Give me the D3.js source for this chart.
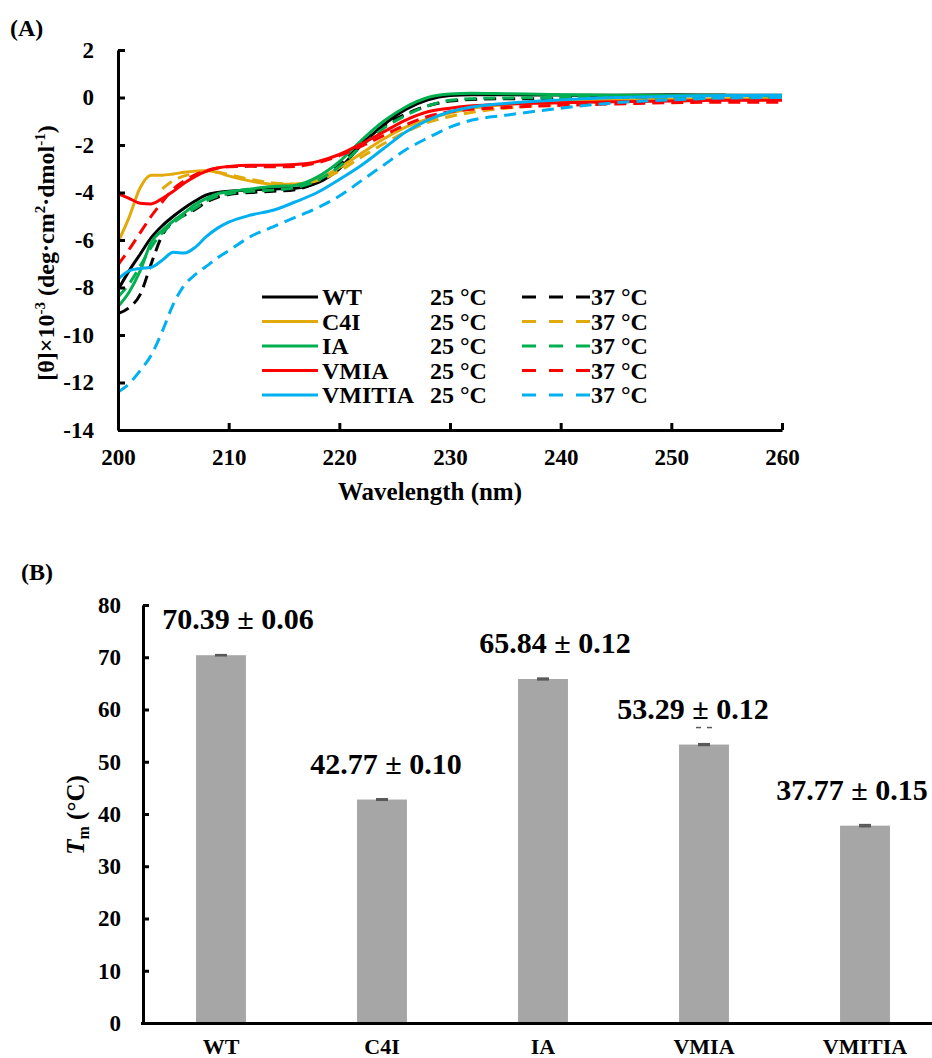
<!DOCTYPE html>
<html>
<head>
<meta charset="utf-8">
<script src="https://cdn.jsdelivr.net/npm/d3@7"></script>
<style>
body { margin: 0; background: #fff; }
svg text { font-family: "Liberation Serif", "Times New Roman", serif; font-weight: bold; fill: #000; }
</style>
</head>
<body>
<script>
// ---- panel A data (CD spectra) ----
var wavelengths = [200,201,202,203,204,205,206,207,208,209,210,212,214,216,218,220,222,224,226,228,230,232,235,240,245,250,255,260];

var wt25 = [-8.1,-7.3,-6.6,-5.9,-5.4,-5.0,-4.65,-4.35,-4.1,-4.0,-3.95,-3.88,-3.85,-3.82,-3.6,-3.0,-2.0,-1.15,-0.5,-0.1,0.08,0.12,0.12,0.1,0.1,0.12,0.1,0.1];
var wt37 = [-9.1,-8.85,-8.3,-7.0,-5.8,-5.2,-4.95,-4.7,-4.4,-4.2,-4.08,-4.0,-3.95,-3.88,-3.55,-2.85,-1.95,-1.2,-0.7,-0.35,-0.15,-0.08,-0.05,-0.05,-0.03,-0.02,0,0];
var c4i25 = [-6.1,-5.05,-3.8,-3.27,-3.27,-3.22,-3.15,-3.1,-3.07,-3.15,-3.3,-3.52,-3.65,-3.65,-3.45,-2.95,-2.35,-1.75,-1.25,-0.9,-0.65,-0.45,-0.3,-0.15,-0.1,-0.08,-0.05,-0.05];
var c4i37 = [null,null,null,null,-3.85,-3.5,-3.3,-3.18,-3.12,-3.15,-3.25,-3.45,-3.6,-3.65,-3.5,-3.1,-2.5,-1.95,-1.45,-1.05,-0.8,-0.62,-0.45,-0.3,-0.2,-0.12,-0.08,-0.05];
var ia25 = [-8.8,-8.2,-7.3,-6.1,-5.6,-5.2,-4.85,-4.5,-4.25,-4.05,-3.97,-3.85,-3.75,-3.7,-3.35,-2.7,-1.8,-1.0,-0.4,0.0,0.15,0.18,0.16,0.12,0.1,0.1,0.1,0.05];
var ia37 = [-8.4,-7.85,-7.1,-6.3,-5.7,-5.28,-4.95,-4.65,-4.35,-4.15,-4.05,-3.95,-3.9,-3.8,-3.5,-2.9,-2.05,-1.3,-0.75,-0.35,-0.12,-0.05,-0.02,0,0.02,0.02,0.02,0.02];
var vmia25 = [-4.05,-4.25,-4.45,-4.48,-4.25,-3.95,-3.6,-3.32,-3.1,-2.97,-2.9,-2.85,-2.85,-2.82,-2.7,-2.4,-1.95,-1.45,-0.95,-0.6,-0.45,-0.35,-0.28,-0.22,-0.18,-0.15,-0.12,-0.12];
var vmia37 = [-7.05,-6.4,-5.7,-5.0,-4.4,-3.85,-3.5,-3.25,-3.08,-2.97,-2.92,-2.9,-2.92,-2.9,-2.75,-2.45,-2.05,-1.6,-1.15,-0.8,-0.6,-0.5,-0.42,-0.33,-0.27,-0.22,-0.2,-0.2];
var vmitia25 = [-7.65,-7.3,-7.2,-7.15,-6.85,-6.52,-6.55,-6.3,-5.85,-5.5,-5.25,-4.95,-4.75,-4.4,-4.0,-3.45,-2.85,-2.15,-1.45,-0.95,-0.6,-0.4,-0.25,-0.1,0,0.05,0.08,0.1];
var vmitia37 = [-12.4,-12.05,-11.5,-10.85,-9.85,-8.7,-7.9,-7.45,-7.1,-6.75,-6.45,-5.85,-5.45,-5.05,-4.65,-4.15,-3.5,-2.85,-2.2,-1.7,-1.25,-0.95,-0.75,-0.45,-0.22,-0.1,-0.02,0];

var mutants = ["WT", "C4I", "IA", "VMIA", "VMITIA"];
var colors = ["#000000", "#e2a90b", "#00b050", "#ff0000", "#00b0f0"];
var temps = ["25 °C", "37 °C"];
var spectra25 = [wt25, c4i25, ia25, vmia25, vmitia25];
var spectra37 = [wt37, c4i37, ia37, vmia37, vmitia37];
var yTicksA = [-14,-12,-10,-8,-6,-4,-2,0,2];
var xTicksA = [200,210,220,230,240,250,260];

// ---- panel B data (melting temperatures) ----
var tmValues = [70.39, 42.77, 65.84, 53.29, 37.77];
var tmErrors = [0.06, 0.10, 0.12, 0.12, 0.15];
var tmLabels = ["70.39 ± 0.06", "42.77 ± 0.10", "65.84 ± 0.12", "53.29 ± 0.12", "37.77 ± 0.15"];
var yTicksB = [0,10,20,30,40,50,60,70,80];

var width = 932, height = 1058;
var svg = d3.select("body").append("svg")
	.attr("width", width)
	.attr("height", height);

svg.append("rect").attr("width", width).attr("height", height).attr("fill", "#fff");

// ======== panel A ========
var xA = d3.scaleLinear().domain([200, 260]).range([118, 782]);
var yA = d3.scaleLinear().domain([-14, 2]).range([430, 50]);

function styleAxis(g, size) {
	g.select(".domain").attr("stroke-width", 3);
	g.selectAll(".tick line").attr("stroke-width", 3);
	g.selectAll(".tick text").attr("font-size", size);
}

svg.append("text")
	.attr("x", 10)
	.attr("y", 36)
	.attr("font-size", "24px")
	.text("(A)");

var series = [];
mutants.forEach((m, i) => {
	series.push({ name: m, color: colors[i], dashed: false, values: spectra25[i] });
});
mutants.forEach((m, i) => {
	series.push({ name: m, color: colors[i], dashed: true, values: spectra37[i] });
});
// draw order: pair solid/dashed per mutant
var order = [0,5,1,6,2,7,3,8,4,9];

var line = d3.line()
	.defined((d) => d[1] !== null)
	.x((d) => xA(d[0]))
	.y((d) => yA(d[1]))
	.curve(d3.curveMonotoneX);

svg.append("g").selectAll("path")
	.data(order.map((k) => series[k]))
	.enter()
	.append("path")
	.attr("fill", "none")
	.attr("stroke", (d) => d.color)
	.attr("stroke-width", 3)
	.attr("stroke-dasharray", (d) => d.dashed ? "12,7" : null)
	.attr("d", (d) => line(wavelengths.map((w, j) => [w, d.values[j]])));

var leftAxisA = d3.axisLeft(yA)
	.tickValues(yTicksA)
	.tickSize(-7)
	.tickSizeOuter(0)
	.tickPadding(24)
	.tickFormat((d) => String(d));
svg.append("g")
	.attr("transform", "translate(118,0)")
	.call(leftAxisA)
	.call((g) => styleAxis(g, "23px"));

var bottomAxisA = d3.axisBottom(xA)
	.tickValues(xTicksA)
	.tickSize(-7)
	.tickSizeOuter(0)
	.tickPadding(19);
svg.append("g")
	.attr("transform", "translate(0,430)")
	.call(bottomAxisA)
	.call((g) => styleAxis(g, "23px"));

svg.append("text")
	.attr("x", 430)
	.attr("y", 500)
	.attr("text-anchor", "middle")
	.attr("font-size", "25px")
	.text("Wavelength (nm)");

var yTitleA = svg.append("text")
	.attr("transform", "translate(54,253) rotate(-90)")
	.attr("text-anchor", "middle")
	.attr("font-size", "24px");
yTitleA.append("tspan").text("[θ]×10");
yTitleA.append("tspan").attr("font-size", "15px").attr("dy", -9).text("-3");
yTitleA.append("tspan").attr("dy", 9).text(" (deg·cm");
yTitleA.append("tspan").attr("font-size", "15px").attr("dy", -9).text("2");
yTitleA.append("tspan").attr("dy", 9).text("·dmol");
yTitleA.append("tspan").attr("font-size", "15px").attr("dy", -9).text("-1");
yTitleA.append("tspan").attr("dy", 9).text(")");

// legend
var legend = svg.append("g");
var legendRows = legend.selectAll("g")
	.data(mutants)
	.enter()
	.append("g")
	.attr("transform", (d, i) => "translate(0," + (297 + i * 24.5) + ")");
legendRows.append("line")
	.attr("x1", 262).attr("x2", 318)
	.attr("stroke", (d, i) => colors[i])
	.attr("stroke-width", 3);
legendRows.append("text")
	.attr("x", 322).attr("y", 8)
	.attr("font-size", "24px")
	.text((d) => d);
legendRows.append("text")
	.attr("x", 430).attr("y", 8)
	.attr("font-size", "24px")
	.text(temps[0]);
legendRows.append("line")
	.attr("x1", 522).attr("x2", 590)
	.attr("stroke", (d, i) => colors[i])
	.attr("stroke-width", 3)
	.attr("stroke-dasharray", "14,13");
legendRows.append("text")
	.attr("x", 591).attr("y", 8)
	.attr("font-size", "24px")
	.text(temps[1]);

// ======== panel B ========
var xB = d3.scaleBand()
	.domain(mutants)
	.range([140.5, 945.5])
	.paddingInner(0.69)
	.paddingOuter(0.345);
var yB = d3.scaleLinear().domain([0, 80]).range([1023, 605]);

svg.append("text")
	.attr("x", 21)
	.attr("y", 580)
	.attr("font-size", "24px")
	.text("(B)");

svg.append("g").selectAll("rect")
	.data(tmValues)
	.enter()
	.append("rect")
	.attr("x", (d, i) => xB(mutants[i]))
	.attr("y", (d) => yB(d))
	.attr("width", xB.bandwidth())
	.attr("height", (d) => yB(0) - yB(d))
	.attr("fill", "#a6a6a6");

// error bars
var errG = svg.append("g").attr("stroke", "#595959").attr("stroke-width", 2);
tmValues.forEach((v, i) => {
	var cx = xB(mutants[i]) + xB.bandwidth() / 2;
	errG.append("line").attr("x1", cx).attr("x2", cx).attr("y1", yB(v + tmErrors[i])).attr("y2", yB(v - tmErrors[i]));
	errG.append("line").attr("x1", cx - 6).attr("x2", cx + 6).attr("y1", yB(v + tmErrors[i])).attr("y2", yB(v + tmErrors[i]));
	errG.append("line").attr("x1", cx - 6).attr("x2", cx + 6).attr("y1", yB(v - tmErrors[i])).attr("y2", yB(v - tmErrors[i]));
});

// small stray marks above the VMIA bar
var vx = xB("VMIA") + xB.bandwidth() / 2;
var vy = yB(tmValues[3]) - 17;
errG.append("line").attr("x1", vx - 8).attr("x2", vx - 3).attr("y1", vy).attr("y2", vy).attr("stroke-width", 1.5);
errG.append("line").attr("x1", vx + 3).attr("x2", vx + 8).attr("y1", vy).attr("y2", vy).attr("stroke-width", 1.5);

var labelDx = [17, 4, 12, -11, -13];
svg.append("g").selectAll("text")
	.data(tmLabels)
	.enter()
	.append("text")
	.attr("x", (d, i) => xB(mutants[i]) + xB.bandwidth() / 2 + labelDx[i])
	.attr("y", (d, i) => yB(tmValues[i]) - 26)
	.attr("text-anchor", "middle")
	.attr("font-size", "30px")
	.text((d) => d);

var leftAxisB = d3.axisLeft(yB)
	.tickValues(yTicksB)
	.tickSize(-6)
	.tickSizeOuter(0)
	.tickPadding(22);
svg.append("g")
	.attr("transform", "translate(143,0)")
	.call(leftAxisB)
	.call((g) => styleAxis(g, "23px"));

var bottomAxisB = d3.axisBottom(xB)
	.tickSize(0)
	.tickPadding(15);
svg.append("g")
	.attr("transform", "translate(0,1023)")
	.call(bottomAxisB)
	.call((g) => styleAxis(g, "22px"))
	.call((g) => g.select(".domain").attr("d", "M141,0.5H932"));

var yTitleB = svg.append("text")
	.attr("transform", "translate(84,815) rotate(-90)")
	.attr("text-anchor", "middle")
	.attr("font-size", "25px");
yTitleB.append("tspan").attr("font-style", "italic").text("T");
yTitleB.append("tspan").attr("font-size", "16px").attr("dy", 5).text("m");
yTitleB.append("tspan").attr("dy", -5).text(" (°C)");
</script>
</body>
</html>
